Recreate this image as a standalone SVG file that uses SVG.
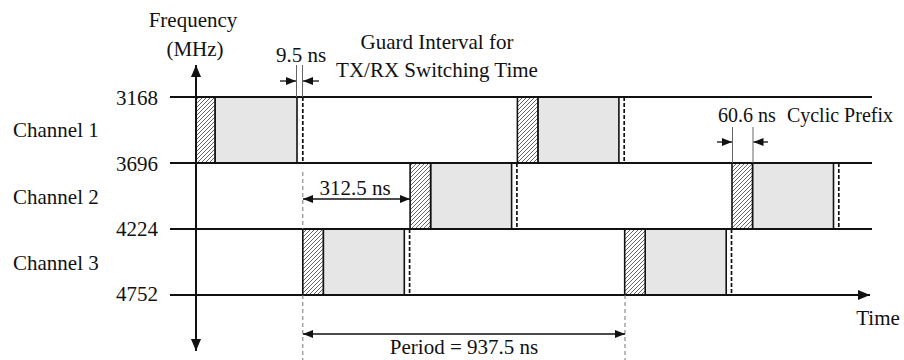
<svg xmlns="http://www.w3.org/2000/svg" width="904" height="360" viewBox="0 0 904 360">
<style>
text{font-family:"Liberation Serif","Times New Roman",serif;font-size:21px;fill:#111}
.sm{font-size:20px}
.ax{stroke:#111;stroke-width:2;fill:none}
.hat{fill:url(#hatch);stroke:#111;stroke-width:1.6}
.gry{fill:#e6e6e6;stroke:#111;stroke-width:1.6}
.gd{stroke:#111;stroke-width:1.7;stroke-dasharray:4 2;fill:none}
.guide{stroke:#777;stroke-width:1;stroke-dasharray:4 3;fill:none}
.thin{stroke:#666;stroke-width:1;fill:none}
.dim{stroke:#111;stroke-width:1.3;fill:none}
</style>
<defs>
<pattern id="hatch" patternUnits="userSpaceOnUse" width="4" height="4">
<rect width="4" height="4" fill="#fff"/>
<path d="M-1,1 l2,-2 M0,4 l4,-4 M3,5 l2,-2" stroke="#555" stroke-width="0.9"/>
</pattern>
<marker id="ah" viewBox="0 0 12 10" refX="12" refY="5" markerWidth="12" markerHeight="10" markerUnits="userSpaceOnUse" orient="auto-start-reverse">
<path d="M0,0 L12,5 L0,10 Z" fill="#111"/>
</marker>
<marker id="ahs" viewBox="0 0 10 8" refX="10" refY="4" markerWidth="10" markerHeight="8" markerUnits="userSpaceOnUse" orient="auto-start-reverse">
<path d="M0,0 L10,4 L0,8 Z" fill="#111"/>
</marker>
</defs>

<g id="labels">
<text x="193" y="27" text-anchor="middle">Frequency</text>
<text x="195" y="56" text-anchor="middle">(MHz)</text>
<text x="13" y="137">Channel 1</text>
<text x="13" y="204">Channel 2</text>
<text x="13" y="270">Channel 3</text>
<text x="158" y="105" text-anchor="end">3168</text>
<text x="158" y="171" text-anchor="end">3696</text>
<text x="158" y="236" text-anchor="end">4224</text>
<text x="158" y="301" text-anchor="end">4752</text>
<text x="878" y="325" text-anchor="middle">Time</text>
<text x="301" y="62" text-anchor="middle">9.5 ns</text>
<text x="437" y="49" text-anchor="middle">Guard Interval for</text>
<text x="437" y="77" text-anchor="middle">TX/RX Switching Time</text>
<text class="sm" x="718" y="122">60.6 ns</text>
<text class="sm" x="893" y="122" text-anchor="end">Cyclic Prefix</text>
<text x="355" y="195" text-anchor="middle">312.5 ns</text>
<text x="464" y="354" text-anchor="middle">Period = 937.5 ns</text>
</g>

<g id="ch1-slot1"><rect class="gry" x="215" y="97" width="82" height="66"/><rect class="hat" x="196" y="97" width="19" height="66"/><line class="gd" x1="302.8" y1="97" x2="302.8" y2="163"/></g>
<g id="ch3-slot1"><rect class="gry" x="323.3" y="229" width="81" height="66"/><rect class="hat" x="302.8" y="229" width="20.5" height="66"/><line class="gd" x1="409.6" y1="229" x2="409.6" y2="295"/></g>
<g id="ch2-slot1"><rect class="gry" x="430.6" y="163" width="81" height="66"/><rect class="hat" x="410.1" y="163" width="20.5" height="66"/><line class="gd" x1="516.9" y1="163" x2="516.9" y2="229"/></g>
<g id="ch1-slot2"><rect class="gry" x="537.9" y="97" width="81" height="66"/><rect class="hat" x="517.4" y="97" width="20.5" height="66"/><line class="gd" x1="624.2" y1="97" x2="624.2" y2="163"/></g>
<g id="ch3-slot2"><rect class="gry" x="645.2" y="229" width="81" height="66"/><rect class="hat" x="624.7" y="229" width="20.5" height="66"/><line class="gd" x1="731.5" y1="229" x2="731.5" y2="295"/></g>
<g id="ch2-slot2"><rect class="gry" x="752.5" y="163" width="81" height="66"/><rect class="hat" x="732" y="163" width="20.5" height="66"/><line class="gd" x1="838.8" y1="163" x2="838.8" y2="229"/></g>

<g id="connectors">
<line class="ax" x1="170" y1="97" x2="872" y2="97"/>
<line class="ax" x1="170" y1="163" x2="872" y2="163"/>
<line class="ax" x1="170" y1="229" x2="872" y2="229"/>
<line class="ax" x1="170" y1="295" x2="870" y2="295" marker-end="url(#ah)"/>
<line class="ax" x1="196" y1="351" x2="196" y2="65" marker-start="url(#ah)" marker-end="url(#ah)"/>
<line class="guide" x1="302.8" y1="172" x2="302.8" y2="229"/>
<line class="guide" x1="302.8" y1="295" x2="302.8" y2="360"/>
<line class="guide" x1="625" y1="295" x2="625" y2="360"/>
<line class="thin" x1="296.5" y1="65" x2="296.5" y2="97"/>
<line class="thin" x1="302.5" y1="65" x2="302.5" y2="97"/>
<line class="dim" x1="280" y1="81" x2="296" y2="81" marker-end="url(#ahs)"/>
<line class="dim" x1="319" y1="81" x2="303" y2="81" marker-end="url(#ahs)"/>
<line class="thin" x1="732.5" y1="127" x2="732.5" y2="163"/>
<line class="thin" x1="753" y1="127" x2="753" y2="163"/>
<line class="dim" x1="717" y1="142" x2="732" y2="142" marker-end="url(#ahs)"/>
<line class="dim" x1="768" y1="142" x2="753.5" y2="142" marker-end="url(#ahs)"/>
<line class="dim" x1="303" y1="199" x2="410" y2="199" marker-start="url(#ahs)" marker-end="url(#ahs)"/>
<line class="dim" x1="303" y1="334" x2="625" y2="334" marker-start="url(#ahs)" marker-end="url(#ahs)"/>
</g>
</svg>
